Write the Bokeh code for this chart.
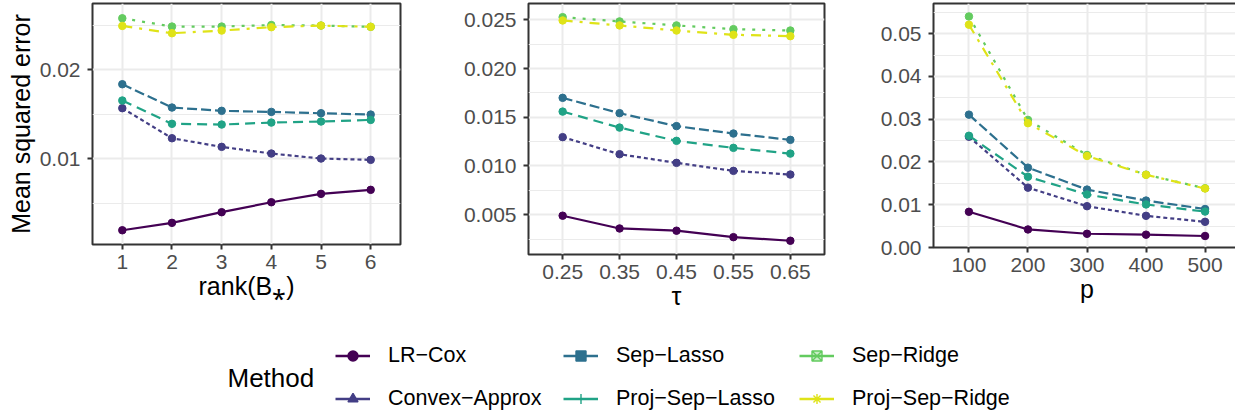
from bokeh.plotting import figure
from bokeh.models import Range1d, FixedTicker, Legend, LegendItem, Label
from bokeh.layouts import row, column
from bokeh.embed import file_html
from bokeh.resources import INLINE

# ---------------- data ----------------
methods = ["LR−Cox", "Convex−Approx", "Sep−Lasso", "Proj−Sep−Lasso", "Sep−Ridge", "Proj−Sep−Ridge"]
colors = ["#440154", "#433E85", "#2D708E", "#20A386", "#63CB5F", "#DFE318"]
dashes = ["solid", "4 3", "10 4", "10 6", "3 7", "10 7 3 7"]
legend_shapes = ["circle", "triangle", "square", "cross", "square_x", "asterisk"]

rank_x = [1, 2, 3, 4, 5, 6]
rank_ticklabels = ["1", "2", "3", "4", "5", "6"]
rank_lrcox = [0.00194, 0.00277, 0.00397, 0.00509, 0.00603, 0.00648]
rank_convex = [0.01566, 0.01228, 0.01131, 0.01056, 0.01000, 0.00985]
rank_seplasso = [0.01835, 0.01573, 0.01536, 0.01524, 0.01509, 0.01494]
rank_projseplasso = [0.01652, 0.01390, 0.01382, 0.01404, 0.01416, 0.01434]
rank_sepridge = [0.02576, 0.02483, 0.02483, 0.02500, 0.02494, 0.02480]
rank_projsepridge = [0.02490, 0.02408, 0.02438, 0.02476, 0.02494, 0.02480]

tau_x = [0.25, 0.35, 0.45, 0.55, 0.65]
tau_ticklabels = ["0.25", "0.35", "0.45", "0.55", "0.65"]
tau_lrcox = [0.00490, 0.00359, 0.00336, 0.00270, 0.00233]
tau_convex = [0.01296, 0.01121, 0.01032, 0.00950, 0.00912]
tau_seplasso = [0.01699, 0.01542, 0.01409, 0.01333, 0.01268]
tau_projseplasso = [0.01558, 0.01394, 0.01258, 0.01186, 0.01127]
tau_sepridge = [0.02527, 0.02483, 0.02442, 0.02404, 0.02390]
tau_projsepridge = [0.02493, 0.02442, 0.02390, 0.02346, 0.02332]

p_x = [100, 200, 300, 400, 500]
p_ticklabels = ["100", "200", "300", "400", "500"]
p_lrcox = [0.00835, 0.00422, 0.00321, 0.00300, 0.00269]
p_convex = [0.02590, 0.01400, 0.00966, 0.00741, 0.00600]
p_seplasso = [0.03107, 0.01867, 0.01354, 0.01098, 0.00900]
p_projseplasso = [0.02613, 0.01655, 0.01240, 0.01007, 0.00840]
p_sepridge = [0.05403, 0.02984, 0.02163, 0.01704, 0.01385]
p_projsepridge = [0.05210, 0.02907, 0.02140, 0.01700, 0.01380]

rank_yticks = [0.01, 0.02]
rank_yticklabels = ["0.01", "0.02"]
rank_yminor = [0.005, 0.015, 0.025]
tau_yticks = [0.005, 0.010, 0.015, 0.020, 0.025]
tau_yticklabels = ["0.005", "0.010", "0.015", "0.020", "0.025"]
tau_yminor = [0.0025, 0.0075, 0.0125, 0.0175, 0.0225]
p_yticks = [0.0, 0.01, 0.02, 0.03, 0.04, 0.05]
p_yticklabels = ["0.00", "0.01", "0.02", "0.03", "0.04", "0.05"]
p_yminor = [0.005, 0.015, 0.025, 0.035, 0.045, 0.055]

FONT = "Liberation Sans"


def panel(xs, series, xlabels, yticks, ylabels, yminor, xr, yr,
          fw, fh, bl, br, bt, bb, xtitle, ytitle=None):
    p = figure(frame_width=fw, frame_height=fh, min_border_left=bl, min_border_right=br,
               min_border_top=bt, min_border_bottom=bb, toolbar_location=None,
               output_backend="svg", x_range=Range1d(*xr), y_range=Range1d(*yr), title=None)
    p.outline_line_color = "#333333"
    p.outline_line_width = 2
    p.background_fill_color = "white"
    p.border_fill_color = "white"
    p.xaxis.ticker = FixedTicker(ticks=xs, minor_ticks=[])
    p.xaxis.major_label_overrides = {x: l for x, l in zip(xs, xlabels)}
    p.yaxis.ticker = FixedTicker(ticks=yticks, minor_ticks=yminor)
    p.yaxis.major_label_overrides = {v: l for v, l in zip(yticks, ylabels)}
    for ax in (p.xaxis[0], p.yaxis[0]):
        ax.axis_line_color = None
        ax.major_tick_line_color = "#333333"
        ax.major_tick_line_width = 2
        ax.major_tick_out = 5
        ax.major_tick_in = 0
        ax.minor_tick_line_color = None
        ax.major_label_text_font = FONT
        ax.major_label_text_font_size = "21px"
        ax.major_label_text_color = "#4D4D4D"
        ax.axis_label_text_font = FONT
        ax.axis_label_text_font_size = "25px"
        ax.axis_label_text_font_style = "normal"
        ax.axis_label_text_color = "black"
    p.xaxis.major_label_standoff = 5
    p.yaxis.major_label_standoff = 7
    p.xaxis.axis_label = xtitle
    p.xaxis.axis_label_standoff = 0
    if ytitle:
        p.yaxis.axis_label = ytitle
        p.yaxis.axis_label_standoff = 2
    p.xgrid.grid_line_color = "#EBEBEB"
    p.xgrid.grid_line_width = 2
    p.ygrid.grid_line_color = "#EBEBEB"
    p.ygrid.grid_line_width = 2
    p.ygrid.minor_grid_line_color = "#EBEBEB"
    p.ygrid.minor_grid_line_width = 1
    for ys, c, d in zip(series, colors, dashes):
        p.line(xs, ys, line_color=c, line_width=2.2, line_dash=d)
        p.scatter(xs, ys, marker="circle", size=7.5, fill_color=c, line_color=c)
    return p


f1 = panel(rank_x, [rank_lrcox, rank_convex, rank_seplasso, rank_projseplasso, rank_sepridge, rank_projsepridge],
           rank_ticklabels, rank_yticks, rank_yticklabels, rank_yminor, (0.4, 6.6), (0.00034, 0.02742),
           308, 241, 92, 60, 2, 87, "rank(B⁎)", "Mean squared error")
f2 = panel(tau_x, [tau_lrcox, tau_convex, tau_seplasso, tau_projseplasso, tau_sepridge, tau_projsepridge],
           tau_ticklabels, tau_yticks, tau_yticklabels, tau_yminor, (0.19, 0.71), (0.00092, 0.02667),
           296, 251, 61, 53, 3, 76, "τ")
f3 = panel(p_x, [p_lrcox, p_convex, p_seplasso, p_projseplasso, p_sepridge, p_projsepridge],
           p_ticklabels, p_yticks, p_yticklabels, p_yminor, (40, 560), (0.0, 0.05706),
           307, 244, 55, 3, 3, 83, "p")

# ---------------- legend ----------------
# legend-only renderers: their single point lies outside the visible range
lg = figure(frame_width=1235, frame_height=85, min_border=0, toolbar_location=None,
            output_backend="svg", x_range=Range1d(0, 1), y_range=Range1d(0, 1),
            x_axis_type=None, y_axis_type=None, title=None)
lg.outline_line_color = None
lg.xgrid.visible = False
lg.ygrid.visible = False
items = []
for m, c, s in zip(methods, colors, legend_shapes):
    lr = lg.line(x=[-10, -9], y=[-10, -10], line_color=c, line_width=2.7)
    hollow = s == "square_x"
    sr = lg.scatter(x=[-10], y=[-10], marker=s, size=(7 if s in ("circle", "square_x") else 8),
                    fill_color=c, fill_alpha=(0.35 if hollow else 1.0), line_color=c, line_width=1.4)
    items.append(LegendItem(label=m, renderers=[lr, sr]))

col_x = [335, 563, 799]
for i, cx in enumerate(col_x):
    leg = Legend(items=items[2 * i:2 * i + 2], location=(cx, 4.5), orientation="vertical",
                 glyph_width=35, glyph_height=25, label_height=25, label_standoff=18, spacing=18,
                 padding=0, margin=0, border_line_color=None, background_fill_alpha=0,
                 label_text_font=FONT, label_text_font_size="21.5px", label_text_color="black")
    lg.add_layout(leg, "center")

lg.add_layout(Label(x=227, y=38, x_units="screen", y_units="screen", text="Method",
                    text_baseline="middle", text_font=FONT, text_font_size="26px", text_color="black"))

layout = column(row(f1, f2, f3), lg)
open("out.html", "w").write(file_html(layout, INLINE))
